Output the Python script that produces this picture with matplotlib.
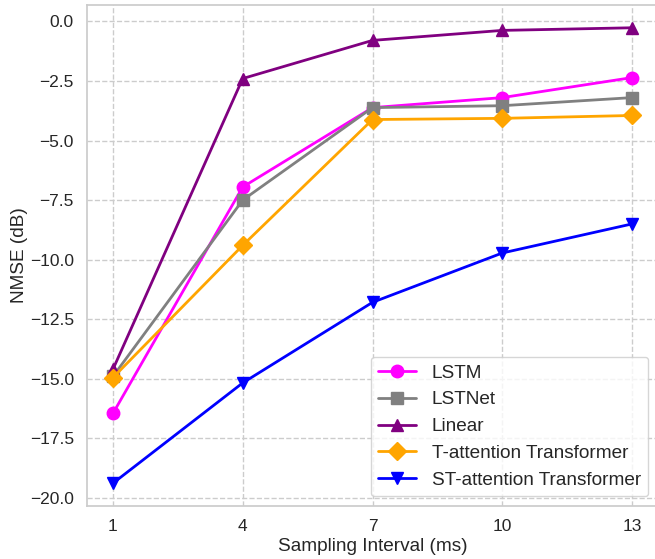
import numpy as np
import matplotlib
matplotlib.use("Agg")
import matplotlib.pyplot as plt
import seaborn as sns

# sampling intervals (ms) and NMSE (dB) per model
intervals = [1, 4, 7, 10, 13]
lstm = [-16.45, -6.95, -3.62, -3.2, -2.36]
lstnet = [-14.9, -7.5, -3.62, -3.54, -3.2]
linear = [-14.6, -2.4, -0.8, -0.38, -0.27]
t_attn = [-14.95, -9.4, -4.12, -4.07, -3.95]
st_attn = [-19.38, -15.17, -11.79, -9.72, -8.5]

sns.set_theme(style="whitegrid")
plt.rcParams['font.family'] = ['Arial', 'Liberation Sans', 'DejaVu Sans']
plt.rcParams['grid.linestyle'] = '--'

fig = plt.figure(figsize=(6.55, 5.59), dpi=100)
ax = fig.add_axes([87/655, 1 - 506/559, 571/655, 501/559])

ax.plot(intervals, lstm, color='magenta', marker='o', lw=2, ms=9, label='LSTM')
ax.plot(intervals, lstnet, color='gray', marker='s', lw=2, ms=9, label='LSTNet')
ax.plot(intervals, linear, color='purple', marker='^', lw=2, ms=9, label='Linear')
ax.plot(intervals, t_attn, color='orange', marker='D', lw=2, ms=9, label='T-attention Transformer')
ax.plot(intervals, st_attn, color='blue', marker='v', lw=2, ms=9, label='ST-attention Transformer')

ax.set_xticks(intervals)
ax.set_xlabel('Sampling Interval (ms)', fontsize=13.7, labelpad=3)
ax.set_ylabel('NMSE (dB)', fontsize=13.7, labelpad=1)
ax.tick_params(labelsize=12.5)
ax.grid(True, linestyle='--', color='#cccccc')
ax.legend(loc='lower right', fontsize=13.7)

fig.savefig("out.png", dpi=100)
